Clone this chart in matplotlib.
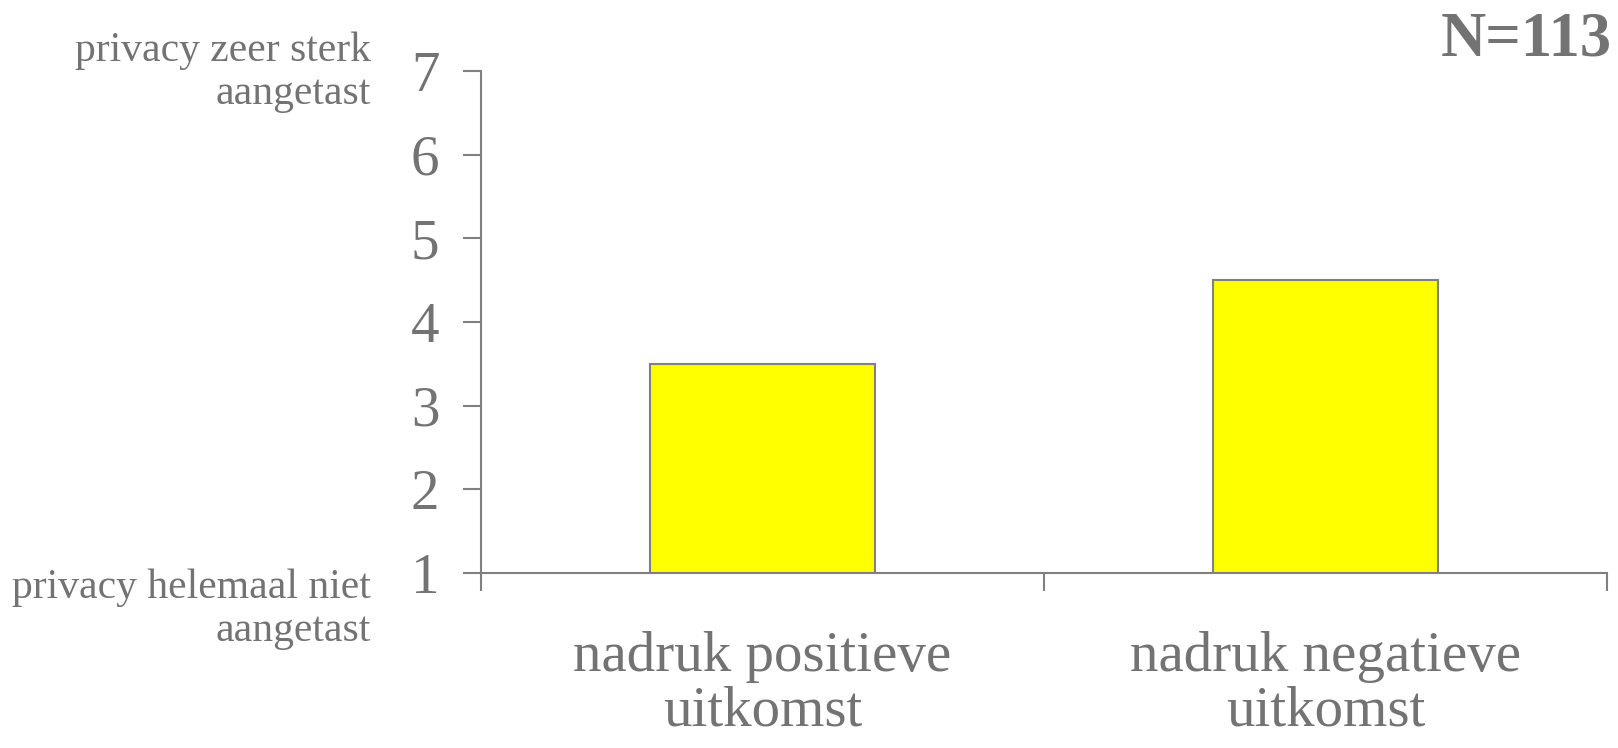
import matplotlib
matplotlib.use("Agg")
import matplotlib.pyplot as plt

# data
categories = ["nadruk positieve\nuitkomst", "nadruk negatieve\nuitkomst"]
values = [3.5, 4.5]
yticks = [1, 2, 3, 4, 5, 6, 7]
top_label = "privacy zeer sterk\naangetast"
bottom_label = "privacy helemaal niet\naangetast"
n_label = "N=113"

GREY = "#737373"
LINE = "#808080"
plt.rcParams["font.family"] = ["Liberation Serif", "DejaVu Serif"]

fig = plt.figure(figsize=(16.18, 7.48), dpi=100)
ax = fig.add_axes([0.2973, 0.234, 0.6959, 0.671])

x = [i + 0.5 for i in range(len(categories))]
ax.bar(x, [v - 1 for v in values], bottom=1, width=0.4, color="#ffff00",
       edgecolor=LINE, linewidth=1.5, zorder=3)

ax.set_xlim(0, len(categories))
ax.set_ylim(1, 7)
ax.set_yticks(yticks)
ax.set_xticks(range(len(categories) + 1))
ax.set_xticklabels([])
ax.set_xticks(x, minor=True)
ax.set_xticklabels(categories, minor=True)

for s in ("top", "right"):
    ax.spines[s].set_visible(False)
for s in ("left", "bottom"):
    ax.spines[s].set_color(LINE)
    ax.spines[s].set_linewidth(1.5)
ax.tick_params(axis="y", direction="out", length=13, width=1.5, color=LINE,
               labelcolor=GREY, labelsize=41, pad=17)
ax.tick_params(axis="x", which="major", direction="out", length=13, width=1.5,
               color=LINE)
ax.tick_params(axis="x", which="minor", length=0, labelcolor=GREY,
               labelsize=41, pad=42)
for t in ax.get_xticklabels(minor=True):
    t.set_linespacing(1.05)

fig.text(0.229, 0.903, top_label, ha="right", va="center", fontsize=30,
         color=GREY, linespacing=1.15)
fig.text(0.229, 0.185, bottom_label, ha="right", va="center", fontsize=30,
         color=GREY, linespacing=1.15)
fig.text(0.996, 0.985, n_label, ha="right", va="top", fontsize=45,
         color=GREY, fontweight="bold")

fig.savefig("out.png", dpi=100, facecolor="white")
